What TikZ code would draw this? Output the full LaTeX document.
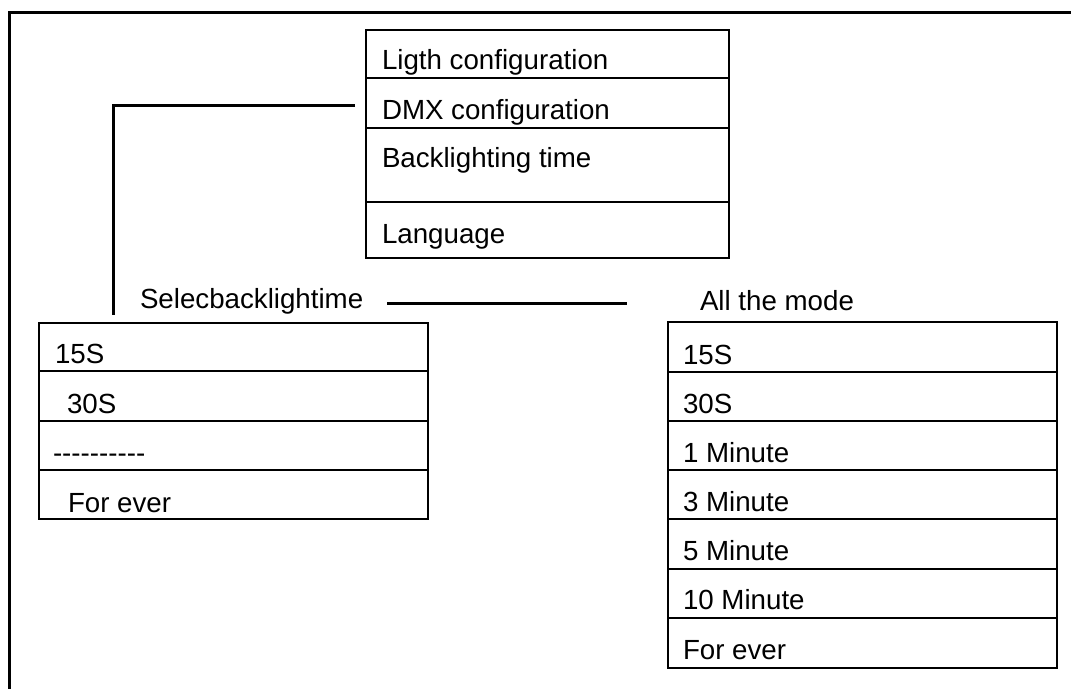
\documentclass[tikz,border=0pt]{standalone}
\usepackage{fontspec}
\setmainfont[Ligatures=TeXOff]{Liberation Sans}
\begin{document}
\begin{tikzpicture}[x=1pt,y=-1pt,
  every node/.style={inner sep=0pt, outer sep=0pt},
  lbl/.style={anchor=base west, font=\fontsize{27.7}{33}\selectfont},
  panel/.style={draw, line width=2pt, anchor=north west},
  rowline/.style={line width=2pt},
  frameline/.style={line width=3pt},
  conn/.style={line width=3pt}]
\useasboundingbox (0,0) rectangle (1071,689);

% outer frame (top and left edges only)
\draw[frameline] (1071,12) -- (9,12) -- (9,689);

% main menu
\node[panel, minimum width=363pt, minimum height=228pt] (menu) at (366,30) {};
\draw[rowline] (366,78) -- (729,78);
\draw[rowline] (366,128) -- (729,128);
\draw[rowline] (366,202) -- (729,202);
\node[lbl] (m1) at (382,69) {Ligth configuration};
\node[lbl] (m2) at (382,119) {DMX configuration};
\node[lbl] (m3) at (382,167) {Backlighting time};
\node[lbl] (m4) at (382,243) {Language};

% backlight time selection
\node[lbl] (seltitle) at (140,308) {Selecbacklightime};
\node[panel, minimum width=389pt, minimum height=196pt] (sel) at (39,323) {};
\draw[rowline] (39,371) -- (428,371);
\draw[rowline] (39,421) -- (428,421);
\draw[rowline] (39,470) -- (428,470);
\node[lbl] (s1) at (55,363) {15S};
\node[lbl] (s2) at (67,413) {30S};
\node[lbl] (s3) at (53,462) {----------};
\node[lbl] (s4) at (68,512) {For ever};

% list of all modes
\node[lbl] (alltitle) at (700,310) {All the mode};
\node[panel, minimum width=389pt, minimum height=346pt] (modes) at (668,322) {};
\foreach \yy in {372,421,470,519,569,618}
  \draw[rowline] (668,\yy) -- (1057,\yy);
\node[lbl] (a1) at (683,364) {15S};
\node[lbl] (a2) at (683,413) {30S};
\node[lbl] (a3) at (683,462) {1 Minute};
\node[lbl] (a4) at (683,511) {3 Minute};
\node[lbl] (a5) at (683,560) {5 Minute};
\node[lbl] (a6) at (683,609) {10 Minute};
\node[lbl] (a7) at (683,659) {For ever};

% connectors
\coordinate (dmxend) at (355,105);
\coordinate (corner) at (113,105);
\coordinate (selend) at (113,315);
\draw[conn] (dmxend) -- (corner) -- (selend);
\coordinate (ln1) at (387,303);
\coordinate (ln2) at (627,303);
\draw[conn] (ln1) -- (ln2);
\end{tikzpicture}
\end{document}
